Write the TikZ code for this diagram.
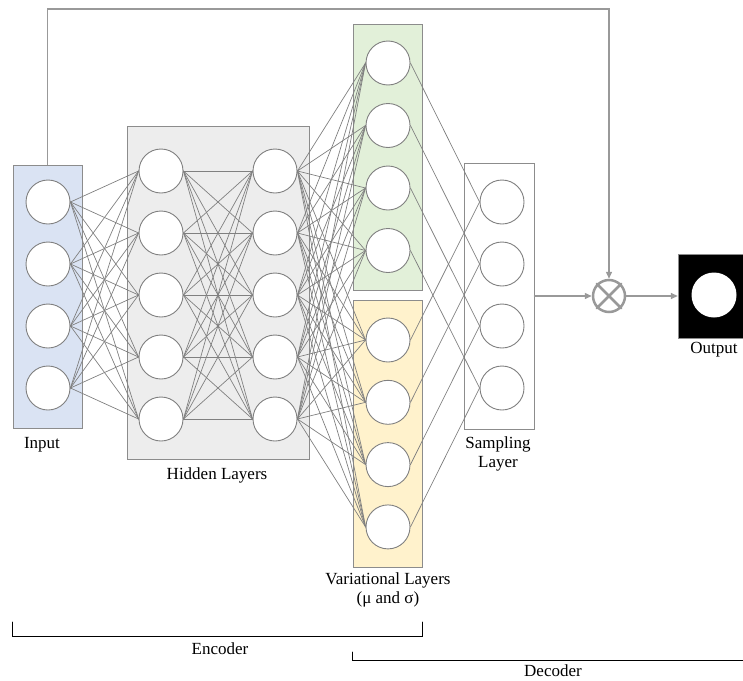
\documentclass[tikz,border=0pt]{standalone}
\usepackage{fontspec}
\setmainfont{Liberation Serif}
\usetikzlibrary{arrows.meta,positioning}
\definecolor{lineGray}{HTML}{808080}
\definecolor{boxGray}{HTML}{8C8C8C}
\definecolor{arrowGray}{HTML}{999999}
\definecolor{inputFill}{HTML}{DAE3F3}
\definecolor{hiddenFill}{HTML}{EDEDED}
\definecolor{muFill}{HTML}{E2F0D9}
\definecolor{sigmaFill}{HTML}{FFF2CC}
\tikzset{
  neuron/.style={circle,draw=lineGray,fill=white,line width=0.9pt,
    minimum size=44,inner sep=0pt},
  layerbox/.style={draw=boxGray,line width=1pt,inner sep=0pt},
  link/.style={lineGray,line width=0.7pt},
  flow/.style={arrowGray,line width=1.4pt,-{Triangle[length=7pt,width=6pt]}},
  caption/.style={font=\fontsize{17}{19}\selectfont,align=center,inner sep=0pt},
}

\begin{document}
\begin{tikzpicture}[x=1pt,y=-1pt,line cap=round]
  \useasboundingbox (0,0) rectangle (743,680);

  % layer boxes
  \node [layerbox,fill=inputFill,minimum width=69,minimum height=263] (inbox) at (47.5,296.5) {};
  \node [layerbox,fill=hiddenFill,minimum width=182,minimum height=333] (hidbox) at (218,292.5) {};
  \node [layerbox,fill=muFill,minimum width=69,minimum height=266] (mubox) at (387.5,157) {};
  \node [layerbox,fill=sigmaFill,minimum width=69,minimum height=267] (sgbox) at (387.5,433.5) {};
  \node [layerbox,fill=white,minimum width=70,minimum height=266] (smpbox) at (499,296) {};

  % neurons
  \foreach \i/\y in {1/202,2/264,3/326,4/388}
    \node [neuron] (in\i) at (48,\y) {};
  \foreach \i in {1,...,5} {
    \node [neuron] (ha\i) at (161,109+62*\i) {};
    \node [neuron] (hb\i) at (275,109+62*\i) {};
  }
  \foreach \i in {1,...,4} {
    \node [neuron] (mu\i) at (388,0.5+62.5*\i) {};
    \node [neuron] (sg\i) at (388,277.7+62.3*\i) {};
    \node [neuron] (smp\i) at (502,140+62*\i) {};
  }

  % fully connected weights
  \foreach \i in {1,...,4}
    \foreach \j in {1,...,5}
      \draw [link] (in\i.east) -- (ha\j.west);
  \foreach \i in {1,...,5}
    \foreach \j in {1,...,5}
      \draw [link] (ha\i.east) -- (hb\j.west);
  \foreach \i in {1,...,5}
    \foreach \j in {1,...,4} {
      \draw [link] (hb\i.east) -- (mu\j.west);
      \draw [link] (hb\i.east) -- (sg\j.west);
    }
  \foreach \i in {1,...,4} {
    \draw [link] (mu\i.east) -- (smp\i.west);
    \draw [link] (sg\i.east) -- (smp\i.west);
  }

  % product and output
  \node [circle,draw=arrowGray,line width=2.5pt,minimum size=32,inner sep=0pt] (mult) at (609,296) {};
  \draw [arrowGray,line width=2.5pt] (mult.north east) -- (mult.south west)
    (mult.north west) -- (mult.south east);
  \node [draw=boxGray,fill=black,minimum width=65,minimum height=84,inner sep=0pt] (outbox) at (710.5,296) {};
  \node [circle,fill=white,minimum size=45,inner sep=0pt] (outdot) at (714,295) {};

  \coordinate (fbtop) at (0,9);
  \draw [flow] (inbox.north) -- (inbox.north |- fbtop) -| (mult.north);
  \draw [flow] (smpbox.east) -- (mult.west);
  \draw [flow] (mult.east) -- (outbox.west);

  % labels
  \node [caption] (inlabel) at (42,445) {Input};
  \node [caption] (hidlabel) at (217,475) {Hidden Layers};
  \node [caption] (varlabel) at (388,590) {Variational Layers\\(μ and σ)};
  \node [caption] (smplabel) at (498,454) {Sampling\\Layer};
  \node [caption] (outlabel) at (714,350) {Output};

  % encoder / decoder brackets
  \coordinate (encTop) at (0,622);
  \coordinate (encBot) at (0,636);
  \coordinate (decTop) at (0,652);
  \coordinate (decBot) at (0,660);
  \draw [black,line width=0.8pt] (inbox.west |- encTop) -- (inbox.west |- encBot)
    -- (mubox.east |- encBot) -- (mubox.east |- encTop);
  \draw [black,line width=0.8pt] (mubox.west |- decTop) -- (mubox.west |- decBot) -- (743,660);
  \node [caption] (enclabel) at (220,649) {Encoder};
  \node [caption] (declabel) at (553,671) {Decoder};
\end{tikzpicture}
\end{document}
